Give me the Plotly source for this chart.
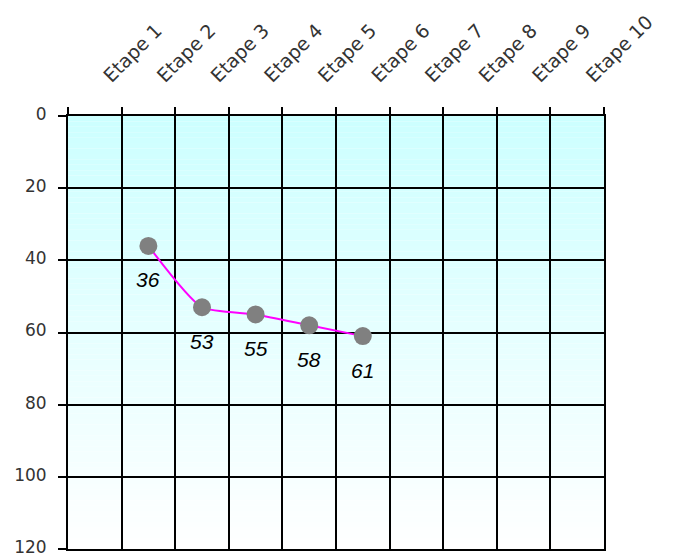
import plotly.graph_objects as go

categories = [f"Etape {i}" for i in range(1, 11)]
point_categories = ["Etape 2", "Etape 3", "Etape 4", "Etape 5", "Etape 6"]
values = [36, 53, 55, 58, 61]
y_ticks = [0, 20, 40, 60, 80, 100, 120]

fig = go.Figure()

# gradient background bands (paper x, data y)
n = 80
for i in range(n):
    y0 = 120 * i / n
    y1 = 120 * (i + 1) / n
    t = (i + 0.5) / n
    r = int(round(204 + (255 - 204) * t))
    fig.add_shape(type="rect", xref="paper", yref="y", x0=0, x1=1, y0=y0, y1=y1,
                  fillcolor=f"rgb({r},255,255)", line_width=0, layer="below")

fig.add_trace(go.Scatter(
    x=point_categories, y=values, mode="lines+markers",
    line=dict(color="#ff00ff", width=2, shape="spline", smoothing=0.6),
    marker=dict(color="#808080", size=18),
    showlegend=False, hoverinfo="skip", cliponaxis=False,
))

for c, v in zip(point_categories, values):
    fig.add_annotation(x=c, y=v, text=f"<i>{v}</i>", showarrow=False,
                       yshift=-34, font=dict(family="Liberation Sans", size=21, color="black"))

fig.update_xaxes(
    type="category", categoryorder="array", categoryarray=categories,
    range=[-0.5, 9.5], side="top", tickson="boundaries",
    ticks="outside", ticklen=7, tickwidth=2, tickcolor="black",
    showgrid=True, gridcolor="black", gridwidth=2,
    showline=True, linecolor="black", linewidth=2, mirror=True,
    tickangle=-45, ticklabelstandoff=20, ticklabelshift=10, automargin=False,
    tickfont=dict(family="DejaVu Sans", size=19, color="#333333"),
)
fig.update_yaxes(
    range=[120, 0], tickvals=y_ticks, ticks="outside", ticklen=8, tickwidth=2,
    tickcolor="black", showgrid=True, gridcolor="black", gridwidth=2,
    showline=True, linecolor="black", linewidth=2, mirror=True, zeroline=False,
    automargin=False, ticklabelstandoff=8, ticklabelshift=2,
    tickfont=dict(family="DejaVu Sans", size=17, color="#333333"),
)

fig.update_layout(
    width=681, height=553,
    margin=dict(l=60, r=85, t=108, b=12),
    paper_bgcolor="white", plot_bgcolor="white",
)

fig.write_html("out.html")
